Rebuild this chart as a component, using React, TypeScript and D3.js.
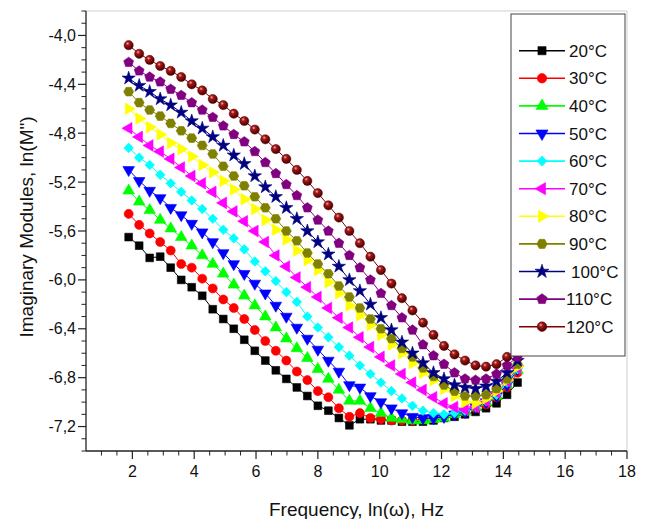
import React from 'react';
import * as d3 from 'd3';

// ln(omega) values of the measured points
const freq = [1.88, 2.22, 2.56, 2.9, 3.24, 3.58, 3.92, 4.26, 4.6, 4.94, 5.28, 5.62, 5.96, 6.3, 6.64, 6.98, 7.32, 7.66, 8.0, 8.34, 8.68, 9.02, 9.36, 9.7, 10.04, 10.38, 10.72, 11.06, 11.4, 11.74, 12.08, 12.42, 12.76, 13.1, 13.44, 13.78, 14.12, 14.46];

const m20 = [-5.65, -5.72, -5.82, -5.81, -5.9, -6.0, -6.06, -6.13, -6.24, -6.32, -6.4, -6.49, -6.58, -6.66, -6.74, -6.81, -6.88, -6.95, -7.03, -7.07, -7.13, -7.19, -7.14, -7.14, -7.15, -7.15, -7.16, -7.16, -7.16, -7.15, -7.13, -7.12, -7.1, -7.08, -7.05, -7.01, -6.94, -6.84];
const m30 = [-5.46, -5.55, -5.62, -5.69, -5.76, -5.87, -5.9, -5.99, -6.07, -6.16, -6.23, -6.32, -6.41, -6.5, -6.58, -6.66, -6.75, -6.82, -6.91, -6.96, -7.05, -7.12, -7.09, -7.13, -7.14, -7.15, -7.15, -7.15, -7.14, -7.13, -7.12, -7.1, -7.08, -7.05, -7.02, -6.96, -6.88, -6.76];
const m40 = [-5.27, -5.36, -5.43, -5.51, -5.58, -5.65, -5.72, -5.8, -5.87, -5.95, -6.04, -6.13, -6.21, -6.3, -6.39, -6.48, -6.56, -6.64, -6.73, -6.81, -6.9, -6.99, -6.99, -7.05, -7.09, -7.13, -7.14, -7.15, -7.15, -7.14, -7.13, -7.1, -7.08, -7.04, -7.0, -6.95, -6.86, -6.74];
const m50 = [-5.1, -5.19, -5.27, -5.33, -5.41, -5.47, -5.54, -5.61, -5.69, -5.78, -5.87, -5.95, -6.03, -6.11, -6.21, -6.3, -6.39, -6.48, -6.57, -6.66, -6.75, -6.86, -6.88, -6.95, -7.0, -7.05, -7.09, -7.12, -7.13, -7.13, -7.12, -7.1, -7.08, -7.04, -7.0, -6.95, -6.86, -6.73];
const m60 = [-4.92, -5.0, -5.06, -5.14, -5.21, -5.28, -5.35, -5.42, -5.5, -5.59, -5.66, -5.75, -5.85, -5.93, -6.01, -6.1, -6.18, -6.3, -6.39, -6.47, -6.55, -6.62, -6.7, -6.77, -6.84, -6.91, -6.97, -7.03, -7.07, -7.09, -7.1, -7.09, -7.07, -7.04, -6.99, -6.94, -6.84, -6.73];
const m70 = [-4.76, -4.83, -4.9, -4.95, -5.01, -5.08, -5.15, -5.21, -5.28, -5.37, -5.44, -5.52, -5.6, -5.69, -5.8, -5.89, -5.98, -6.06, -6.14, -6.23, -6.31, -6.39, -6.47, -6.55, -6.63, -6.7, -6.77, -6.84, -6.9, -6.96, -7.01, -7.04, -7.06, -7.04, -6.99, -6.92, -6.83, -6.72];
const m80 = [-4.6, -4.68, -4.75, -4.81, -4.88, -4.93, -4.99, -5.06, -5.12, -5.19, -5.26, -5.34, -5.42, -5.51, -5.59, -5.67, -5.76, -5.84, -5.92, -6.02, -6.11, -6.21, -6.29, -6.37, -6.45, -6.53, -6.6, -6.68, -6.76, -6.82, -6.89, -6.95, -7.0, -7.01, -6.97, -6.91, -6.82, -6.71];
const m90 = [-4.46, -4.55, -4.61, -4.66, -4.72, -4.78, -4.84, -4.9, -4.97, -5.07, -5.15, -5.23, -5.32, -5.41, -5.5, -5.6, -5.68, -5.78, -5.87, -5.95, -6.05, -6.14, -6.23, -6.32, -6.4, -6.48, -6.56, -6.63, -6.72, -6.79, -6.86, -6.91, -6.95, -6.95, -6.94, -6.89, -6.81, -6.69];
const m100 = [-4.35, -4.41, -4.46, -4.52, -4.57, -4.63, -4.7, -4.76, -4.83, -4.9, -4.98, -5.05, -5.15, -5.24, -5.32, -5.41, -5.5, -5.6, -5.69, -5.79, -5.89, -6.0, -6.09, -6.2, -6.31, -6.41, -6.51, -6.6, -6.68, -6.76, -6.81, -6.86, -6.88, -6.89, -6.87, -6.83, -6.76, -6.66];
const m110 = [-4.22, -4.29, -4.34, -4.38, -4.44, -4.49, -4.55, -4.61, -4.67, -4.74, -4.81, -4.87, -4.95, -5.04, -5.13, -5.22, -5.31, -5.41, -5.51, -5.6, -5.7, -5.8, -5.9, -6.0, -6.11, -6.21, -6.31, -6.41, -6.53, -6.62, -6.69, -6.76, -6.81, -6.82, -6.81, -6.77, -6.7, -6.63];
const m120 = [-4.08, -4.15, -4.2, -4.25, -4.29, -4.34, -4.4, -4.45, -4.52, -4.57, -4.64, -4.7, -4.77, -4.85, -4.93, -5.01, -5.1, -5.19, -5.29, -5.39, -5.49, -5.6, -5.7, -5.81, -5.92, -6.03, -6.15, -6.25, -6.35, -6.45, -6.54, -6.61, -6.66, -6.7, -6.71, -6.69, -6.63, -6.56];

const seriesLabels = ['20°C', '30°C', '40°C', '50°C', '60°C', '70°C', '80°C', '90°C', '100°C', '110°C', '120°C'];
const seriesValues = [m20, m30, m40, m50, m60, m70, m80, m90, m100, m110, m120];
const seriesColors = ['#000000', '#ff0000', '#00ff00', '#0000ff', '#00ffff', '#ff00ff', '#ffff00', '#808000', '#000080', '#800080', '#800000'];
const seriesShapes = ['square', 'circle', 'triUp', 'triDown', 'diamond', 'triLeft', 'triRight', 'hexagon', 'star', 'pentagon', 'ball'];

const xTicks = [2, 4, 6, 8, 10, 12, 14, 16, 18];
const yTicks = [-7.2, -6.8, -6.4, -6.0, -5.6, -5.2, -4.8, -4.4, -4.0];

const FONT = '"Liberation Sans", Arial, Helvetica, sans-serif';

function polygon(n: number, r: number, rot: number) {
  const pts: string[] = [];
  for (let i = 0; i < n; i++) {
    const a = rot + (i * 2 * Math.PI) / n;
    pts.push(`${(r * Math.cos(a)).toFixed(2)},${(r * Math.sin(a)).toFixed(2)}`);
  }
  return 'M' + pts.join('L') + 'Z';
}

function shapePath(shape: string, scale = 1): { d: string; rot: number } {
  const s = scale;
  switch (shape) {
    case 'square':
      return { d: d3.symbol().type(d3.symbolSquare).size(60 * s * s)() as string, rot: 0 };
    case 'circle':
      return { d: d3.symbol().type(d3.symbolCircle).size(64 * s * s)() as string, rot: 0 };
    case 'triUp':
      return { d: d3.symbol().type(d3.symbolTriangle).size(58 * s * s)() as string, rot: 0 };
    case 'triDown':
      return { d: d3.symbol().type(d3.symbolTriangle).size(58 * s * s)() as string, rot: 180 };
    case 'triLeft':
      return { d: d3.symbol().type(d3.symbolTriangle).size(58 * s * s)() as string, rot: -90 };
    case 'triRight':
      return { d: d3.symbol().type(d3.symbolTriangle).size(58 * s * s)() as string, rot: 90 };
    case 'diamond':
      return { d: d3.symbol().type(d3.symbolSquare).size(46 * s * s)() as string, rot: 45 };
    case 'hexagon':
      return { d: polygon(6, 5 * s, 0), rot: 0 };
    case 'star':
      return { d: d3.symbol().type(d3.symbolStar).size(55 * s * s)() as string, rot: 0 };
    case 'pentagon':
      return { d: polygon(5, 5.2 * s, -Math.PI / 2), rot: 0 };
    default:
      return { d: d3.symbol().type(d3.symbolCircle).size(64 * s * s)() as string, rot: 0 };
  }
}

function Marker({ shape, color, cx, cy, scale = 1 }: { shape: string; color: string; cx: number; cy: number; scale?: number }) {
  if (shape === 'ball') {
    return <circle cx={cx} cy={cy} r={4.6 * scale} fill="url(#ballGrad)" stroke="#5a0000" strokeWidth={0.5} />;
  }
  const { d, rot } = shapePath(shape, scale);
  return <path d={d} transform={`translate(${cx},${cy}) rotate(${rot})`} fill={color} stroke={color} strokeWidth={0.6} />;
}

export default function App() {
  const left = 86, right = 627, top = 11, bottom = 451;
  const x = d3.scaleLinear().domain([0.5, 18]).range([left, right]);
  const y = d3.scaleLinear().domain([-7.4, -3.8]).range([bottom, top]);

  const xMinor = d3.range(1, 18.01, 0.5).filter((v) => Math.abs(v / 2 - Math.round(v / 2)) > 1e-6);
  const yMinor = d3.range(-7.4, -3.79, 0.1).filter((v) => !yTicks.some((t) => Math.abs(t - v) < 1e-6));

  const line = d3
    .line<[number, number]>()
    .x((d) => x(d[0]))
    .y((d) => y(d[1]));

  const legX = 511, legY = 14, legW = 114, legH = 342;
  const rowY0 = 50.7, rowStep = 27.6;

  return (
    <svg width={648} height={519} style={{ position: 'absolute', left: 0, top: 0, background: '#fff' }} fontFamily={FONT}>
      <defs>
        <radialGradient id="ballGrad" cx="38%" cy="32%" r="65%">
          <stop offset="0%" stopColor="#f4b0b0" />
          <stop offset="30%" stopColor="#a81818" />
          <stop offset="100%" stopColor="#4a0000" />
        </radialGradient>
      </defs>
      <rect x={0} y={0} width={648} height={519} fill="#fff" />

      {/* frame */}
      <line x1={left} x2={right} y1={top} y2={top} stroke="#cfcfcf" strokeWidth={1} />
      <line x1={right} x2={right} y1={top} y2={bottom} stroke="#cfcfcf" strokeWidth={1} />

      {/* series */}
      {seriesValues.map((vals, si) => {
        const pts: [number, number][] = freq.map((f, i) => [f, vals[i]]);
        return (
          <g key={si}>
            <path d={line(pts) as string} fill="none" stroke={seriesColors[si]} strokeWidth={1} />
            {pts.map((p, i) => (
              <Marker key={i} shape={seriesShapes[si]} color={seriesColors[si]} cx={x(p[0])} cy={y(p[1])} />
            ))}
          </g>
        );
      })}

      {/* axes */}
      <line x1={left} x2={left} y1={top} y2={bottom} stroke="#222" strokeWidth={1.3} />
      <line x1={left} x2={right} y1={bottom} y2={bottom} stroke="#222" strokeWidth={1.3} />
      {yTicks.map((t) => (
        <g key={'yt' + t}>
          <line x1={left - 8} x2={left} y1={y(t)} y2={y(t)} stroke="#222" strokeWidth={1.2} />
          <text x={left - 10} y={y(t)} dy="0.35em" textAnchor="end" fontSize={16} fill="#111">
            {t.toFixed(1).replace('.', ',')}
          </text>
        </g>
      ))}
      {yMinor.map((t, i) => (
        <line key={'ym' + i} x1={left - 4.5} x2={left} y1={y(t)} y2={y(t)} stroke="#222" strokeWidth={1} />
      ))}
      {xTicks.map((t) => (
        <g key={'xt' + t}>
          <line x1={x(t)} x2={x(t)} y1={bottom} y2={bottom + 8} stroke="#222" strokeWidth={1.2} />
          <text x={x(t)} y={bottom + 26} textAnchor="middle" fontSize={16} fill="#111">
            {t}
          </text>
        </g>
      ))}
      {xMinor.map((t, i) => (
        <line key={'xm' + i} x1={x(t)} x2={x(t)} y1={bottom} y2={bottom + 4.5} stroke="#222" strokeWidth={1} />
      ))}

      {/* axis titles */}
      <text x={356.5} y={516} textAnchor="middle" fontSize={19} fill="#111">
        Frequency, ln(ω), Hz
      </text>
      <text transform="translate(33,227) rotate(-90)" textAnchor="middle" fontSize={19} fill="#111">
        Imaginary Modules, ln(M")
      </text>

      {/* legend */}
      <rect x={legX} y={legY} width={legW} height={legH} fill="#fff" stroke="#444" strokeWidth={1} />
      {seriesLabels.map((lab, i) => {
        const cy = rowY0 + i * rowStep;
        return (
          <g key={'lg' + i}>
            <line x1={519} x2={565} y1={cy} y2={cy} stroke={seriesColors[i]} strokeWidth={1.6} />
            <Marker shape={seriesShapes[i]} color={seriesColors[i]} cx={542} cy={cy} scale={1.05} />
            <text x={i >= 9 ? 566 : i === 8 ? 571 : 569} y={cy + 6} fontSize={17} fill="#111">
              {lab}
            </text>
          </g>
        );
      })}
    </svg>
  );
}
